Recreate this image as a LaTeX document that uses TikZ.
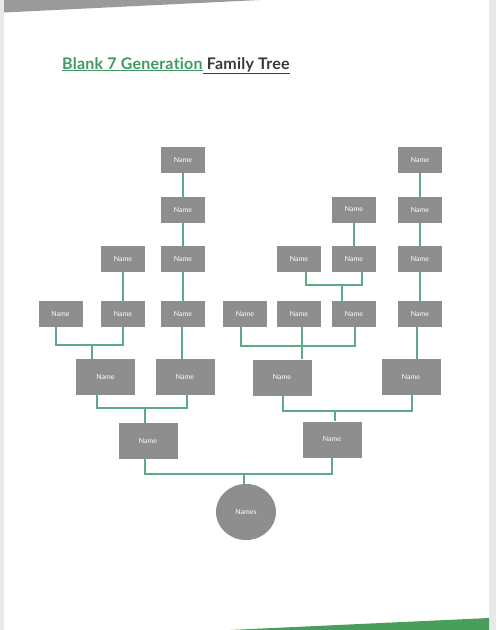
\documentclass[tikz,border=0pt]{standalone}
\usepackage{fontspec}
\setmainfont{Lato}[Ligatures=NoCommon]
\usetikzlibrary{shapes.geometric,calc}
\definecolor{boxgray}{HTML}{8E8E8E}
\definecolor{lnkgreen}{HTML}{5DAB86}
\definecolor{titlegreen}{HTML}{3F9A62}
\definecolor{titledark}{HTML}{3A3A3A}
\definecolor{framegray}{HTML}{E9E9E9}
\definecolor{wedgegray}{HTML}{9A9A9A}
\definecolor{wedgegreen}{HTML}{4A9E5C}
\begin{document}
\begin{tikzpicture}[x=1pt,y=-1pt,
  sbox/.style={rectangle,fill=boxgray,draw=none,minimum width=44pt,minimum height=26pt,inner sep=0pt,text=white,font=\fontsize{7}{8}\selectfont},
  bbox/.style={sbox,minimum width=59pt,minimum height=36pt},
  rootnode/.style={ellipse,fill=boxgray,draw=none,minimum width=60pt,minimum height=56pt,inner sep=0pt,text=white,font=\fontsize{7}{8}\selectfont},
  lnk/.style={draw=lnkgreen,line width=1.6pt}]
% page and background
\useasboundingbox (0,0) rectangle (496,630);
\fill[framegray] (0,0) rectangle (496,630);
\fill[white] (4,0) rectangle (489,630);
\fill[wedgegray] (4,0) -- (260,0) -- (4,12.5) -- cycle;
\fill[wedgegreen] (230,630) -- (489,618) -- (489,630) -- cycle;
% title
\node[anchor=base west,inner sep=0pt,font=\fontsize{16}{18}\selectfont\bfseries\addfontfeature{LetterSpace=1.5}] (title) at (62,69)
  {\textcolor{titlegreen}{\underline{Blank 7 Generation}}\textcolor{titledark}{\underline{ Family Tree}}};
% row 1
\node[sbox] (r1a) at (183,160) {Name};
\node[sbox] (r1b) at (420,160) {Name};
% row 2
\node[sbox] (r2a) at (183,210) {Name};
\node[sbox] (r2b) at (354,209.5) {Name};
\node[sbox] (r2c) at (420,210) {Name};
% row 3
\node[sbox] (r3a) at (123,259) {Name};
\node[sbox] (r3b) at (183,259) {Name};
\node[sbox] (r3c) at (299,259) {Name};
\node[sbox] (r3d) at (354,259) {Name};
\node[sbox] (r3e) at (420,259) {Name};
% row 4
\node[sbox] (r4a) at (60.5,314) {Name};
\node[sbox] (r4b) at (123,314) {Name};
\node[sbox] (r4c) at (183,314) {Name};
\node[sbox] (r4d) at (245,314) {Name};
\node[sbox] (r4e) at (299,314) {Name};
\node[sbox] (r4f) at (354,314) {Name};
\node[sbox] (r4g) at (420,314) {Name};
% row 5
\node[bbox] (r5a) at (105.5,377) {Name};
\node[bbox] (r5b) at (185,377) {Name};
\node[bbox] (r5c) at (282,377.5) {Name};
\node[bbox] (r5d) at (411,377) {Name};
% row 6
\node[bbox] (r6a) at (148,441) {Name};
\node[bbox] (r6b) at (332,439.5) {Name};
% root
\node[rootnode] (root) at (246,512) {Names};
% junctions
\coordinate (j3) at (342,285);
\coordinate (j1) at (92,345);
\coordinate (j2) at (302,346);
\coordinate (j4) at (145,408);
\coordinate (j5) at (335,411);
\coordinate (j6) at (244,474);
% single lines
\draw[lnk] (r1a) -- (r2a);
\draw[lnk] (r2a) -- (r3b);
\draw[lnk] (r3b) -- (r4c);
\draw[lnk] ([xshift=-1pt]r4c.south) -- ([xshift=-1pt]r4c.south |- r5b.north);
\draw[lnk] (r1b) -- (r2c);
\draw[lnk] (r2c) -- (r3e);
\draw[lnk] (r3e) -- (r4g);
\draw[lnk] ([xshift=-3pt]r4g.south) -- ([xshift=-3pt]r4g.south |- r5d.north);
\draw[lnk] (r2b) -- (r3d);
\draw[lnk] (r3a) -- (r4b);
% bracket row3 -> row4
\draw[lnk] ([xshift=7pt]r3c.south) |- (j3);
\draw[lnk] ([xshift=8pt]r3d.south) |- (j3);
\draw[lnk] (j3) -- (j3 |- r4f.north);
% bracket row4 -> row5 left
\draw[lnk] ([xshift=-4.5pt]r4a.south) |- (j1);
\draw[lnk] (r4b.south) |- (j1);
\draw[lnk] (j1) -- (j1 |- r5a.north);
% bracket row4 -> row5 right
\draw[lnk] ([xshift=-4pt]r4d.south) |- (j2);
\draw[lnk] ([xshift=3pt]r4e.south) |- (j2);
\draw[lnk] ([xshift=1pt]r4f.south) |- (j2);
\draw[lnk] (j2) -- (j2 |- r5c.north);
% bracket row5 -> row6
\draw[lnk] ([xshift=-8.5pt]r5a.south) |- (j4);
\draw[lnk] ([xshift=2pt]r5b.south) |- (j4);
\draw[lnk] (j4) -- (j4 |- r6a.north);
\draw[lnk] ([xshift=1pt]r5c.south) |- (j5);
\draw[lnk] ([xshift=1pt]r5d.south) |- (j5);
\draw[lnk] (j5) -- (j5 |- r6b.north);
% bracket row6 -> root
\draw[lnk] ([xshift=-3pt]r6a.south) |- (j6);
\draw[lnk] (r6b.south) |- (j6);
\draw[lnk] (j6) -- (j6 |- root.north);
\end{tikzpicture}
\end{document}
